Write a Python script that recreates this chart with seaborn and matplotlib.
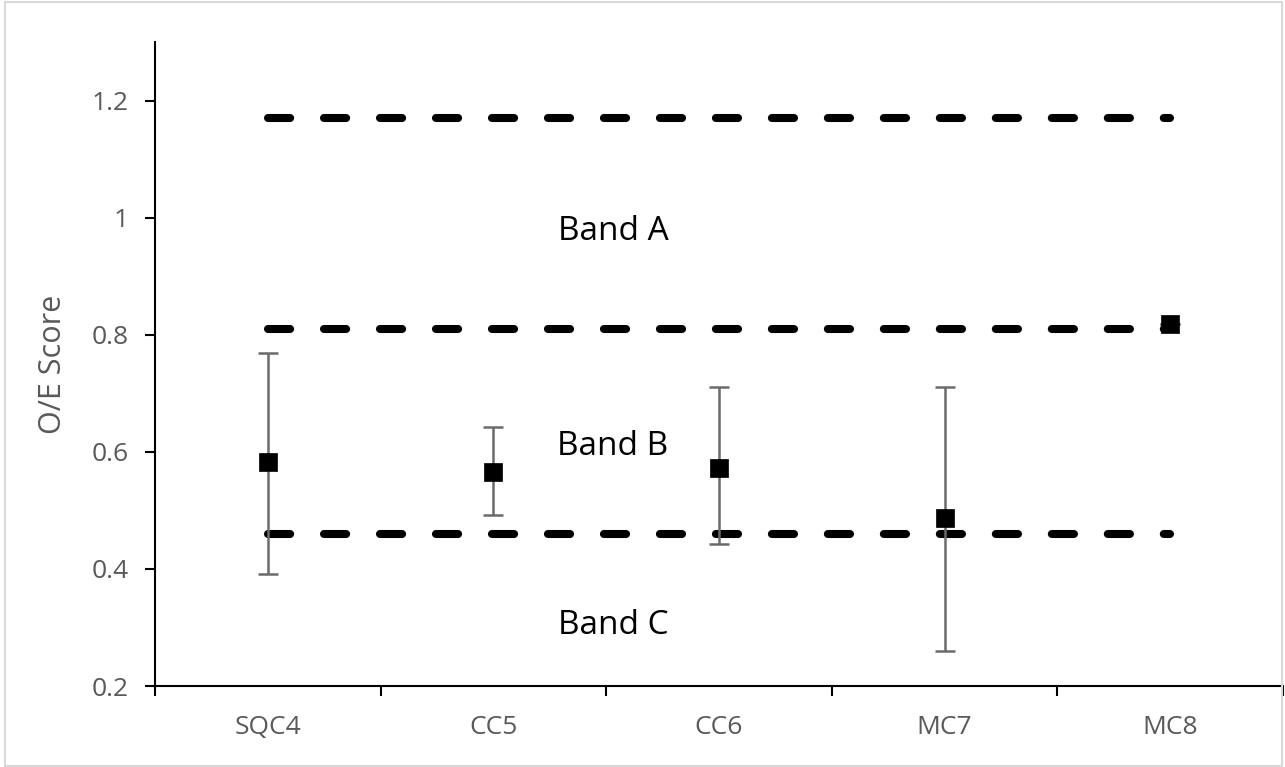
import matplotlib
matplotlib.use("Agg")
import matplotlib.pyplot as plt
from matplotlib.patches import Rectangle
import seaborn as sns
import pandas as pd
import numpy as np

categories = ["SQC4", "CC5", "CC6", "MC7", "MC8"]
scores = [0.583, 0.565, 0.573, 0.487, 0.819]
err_upper = [0.769, 0.642, 0.71, 0.71, 0.819]
err_lower = [0.392, 0.492, 0.442, 0.26, 0.819]
band_limits = [1.17, 0.81, 0.46]
band_labels = ["Band A", "Band B", "Band C"]
band_label_y = [0.976, 0.609, 0.304]
yticks = [0.2, 0.4, 0.6, 0.8, 1.0, 1.2]
ytick_labels = ["0.2", "0.4", "0.6", "0.8", "1", "1.2"]

sns.set_theme(style="white")
plt.rcParams['font.family'] = ['Open Sans', 'DejaVu Sans']

W, H = 1285, 767
fig = plt.figure(figsize=(W / 100, H / 100), dpi=100)
ax = fig.add_axes([155 / W, 1 - 686 / H, (1283 - 155) / W, (686 - 42) / H])

df = pd.DataFrame({"cat": categories, "score": scores})
xpos = np.arange(len(categories))

# dashed band lines
lw_dash = 5.8
for lim in band_limits:
    ax.plot(xpos[[0, -1]], [lim, lim], color="black", lw=lw_dash,
            linestyle=(0, (2.75, 4.2)), dash_capstyle="round", zorder=2)

# error bars
sc = np.array(scores)
yerr = np.vstack([sc - np.array(err_lower), np.array(err_upper) - sc])
ax.errorbar(xpos, sc, yerr=yerr, fmt="none", ecolor="#6b6b6b", elinewidth=1.8,
            capsize=7.5, capthick=1.8, zorder=3)

sns.scatterplot(data=df.assign(x=xpos), x="x", y="score", marker="s", s=170,
                color="black", edgecolor="black", linewidth=0.5, ax=ax, zorder=4)

for lab, yy in zip(band_labels, band_label_y):
    ax.text(1.53, yy, lab, ha="center", va="center", fontsize=24, color="black")

ax.set_xlim(-0.5, len(categories) - 0.5)
ax.set_ylim(0.2, 1.3)
ax.set_yticks(yticks)
ax.set_yticklabels(ytick_labels)
ax.set_xticks(np.arange(len(categories) + 1) - 0.5)
ax.set_xticklabels([])
ax.set_xticks(xpos, minor=True)
ax.set_xticklabels(categories, minor=True)
ax.tick_params(axis="x", which="major", direction="out", length=7, width=1.5,
               color="black", bottom=True)
ax.tick_params(axis="x", which="minor", length=0, pad=21, labelsize=19,
               labelcolor="#595959")
ax.tick_params(axis="y", direction="out", length=7, width=1.5, color="black",
               left=True, labelsize=19, labelcolor="#595959", pad=12)
ax.set_xlabel("")
ax.set_ylabel("O/E Score", fontsize=22, color="#595959")
ax.yaxis.set_label_coords(-0.077, 0.5)

for s in ["top", "right"]:
    ax.spines[s].set_visible(False)
for s in ["left", "bottom"]:
    ax.spines[s].set_color("black")
    ax.spines[s].set_linewidth(1.5)
ax.grid(False)

fig.patches.append(Rectangle((5 / W, 1 / H), (1282 - 5) / W, (765 - 1) / H,
                             transform=fig.transFigure, fill=False,
                             edgecolor="#d9d9d9", linewidth=1.5))

fig.savefig("out.png", dpi=100)
